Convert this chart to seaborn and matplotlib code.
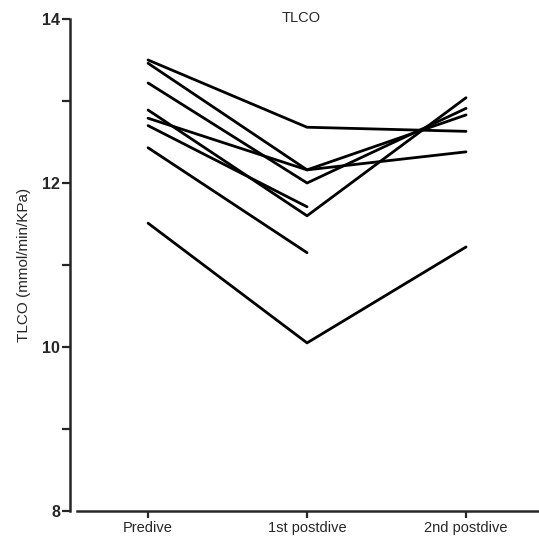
import numpy as np
import pandas as pd
import seaborn as sns
import matplotlib
matplotlib.use("Agg")
import matplotlib.pyplot as plt
from matplotlib.ticker import MultipleLocator

sessions = ["Predive", "1st postdive", "2nd postdive"]
subjects = ["A", "B", "C", "D", "E", "F", "G", "H"]
predive = [13.50, 13.46, 13.22, 12.89, 12.79, 12.70, 12.43, 11.51]
post1 = [12.68, 12.16, 12.00, 11.60, 12.16, 11.71, 11.15, 10.05]
post2 = [12.63, 12.83, 12.91, 13.04, 12.38, np.nan, np.nan, 11.22]

rows = []
for s, a, b, c in zip(subjects, predive, post1, post2):
    for sess, v in zip(sessions, [a, b, c]):
        rows.append({"subject": s, "session": sess, "TLCO": v})
df = pd.DataFrame(rows).dropna()

sns.set_theme(style="ticks")
plt.rcParams["font.family"] = ["Liberation Sans", "DejaVu Sans"]

W, H = 539, 536
fig = plt.figure(figsize=(W / 100, H / 100), dpi=100)
ax = fig.add_axes([77 / W, (H - 511) / H, (539 - 77) / W, (511 - 19) / H])

sns.lineplot(data=df, x="session", y="TLCO", units="subject", estimator=None,
             color="black", linewidth=2.0, sort=False, ax=ax, legend=False)

# spine placement first (it resets ticks)
for side in ["top", "right"]:
    ax.spines[side].set_visible(False)
ax.spines["left"].set_position(("outward", 5))
ax.spines["left"].set_linewidth(1.8)
ax.spines["bottom"].set_linewidth(1.8)

ax.set_xlim(-0.447, 2.459)
ax.set_ylim(8, 14)
ax.set_xticks([0, 1, 2])
ax.set_yticks([8, 10, 12, 14])
ax.yaxis.set_minor_locator(MultipleLocator(1))
ax.tick_params(axis="y", which="both", length=6, width=1.6, direction="out", pad=1,
               labelsize=11.5)
ax.tick_params(axis="x", which="major", length=5, width=1.6, direction="out", pad=2,
               labelsize=10.5)
ax.set_xticklabels(sessions, fontsize=10.5)
ax.set_yticklabels(["8", "10", "12", "14"], fontweight="bold", fontsize=11.5)
ax.set_xlabel("")
ax.set_ylabel("TLCO (mmol/min/KPa)", fontsize=11, labelpad=8)

fig.text(301 / W, (H - 18) / H, "TLCO", ha="center", va="center", fontsize=10.5)

fig.savefig("out.png", dpi=100)
